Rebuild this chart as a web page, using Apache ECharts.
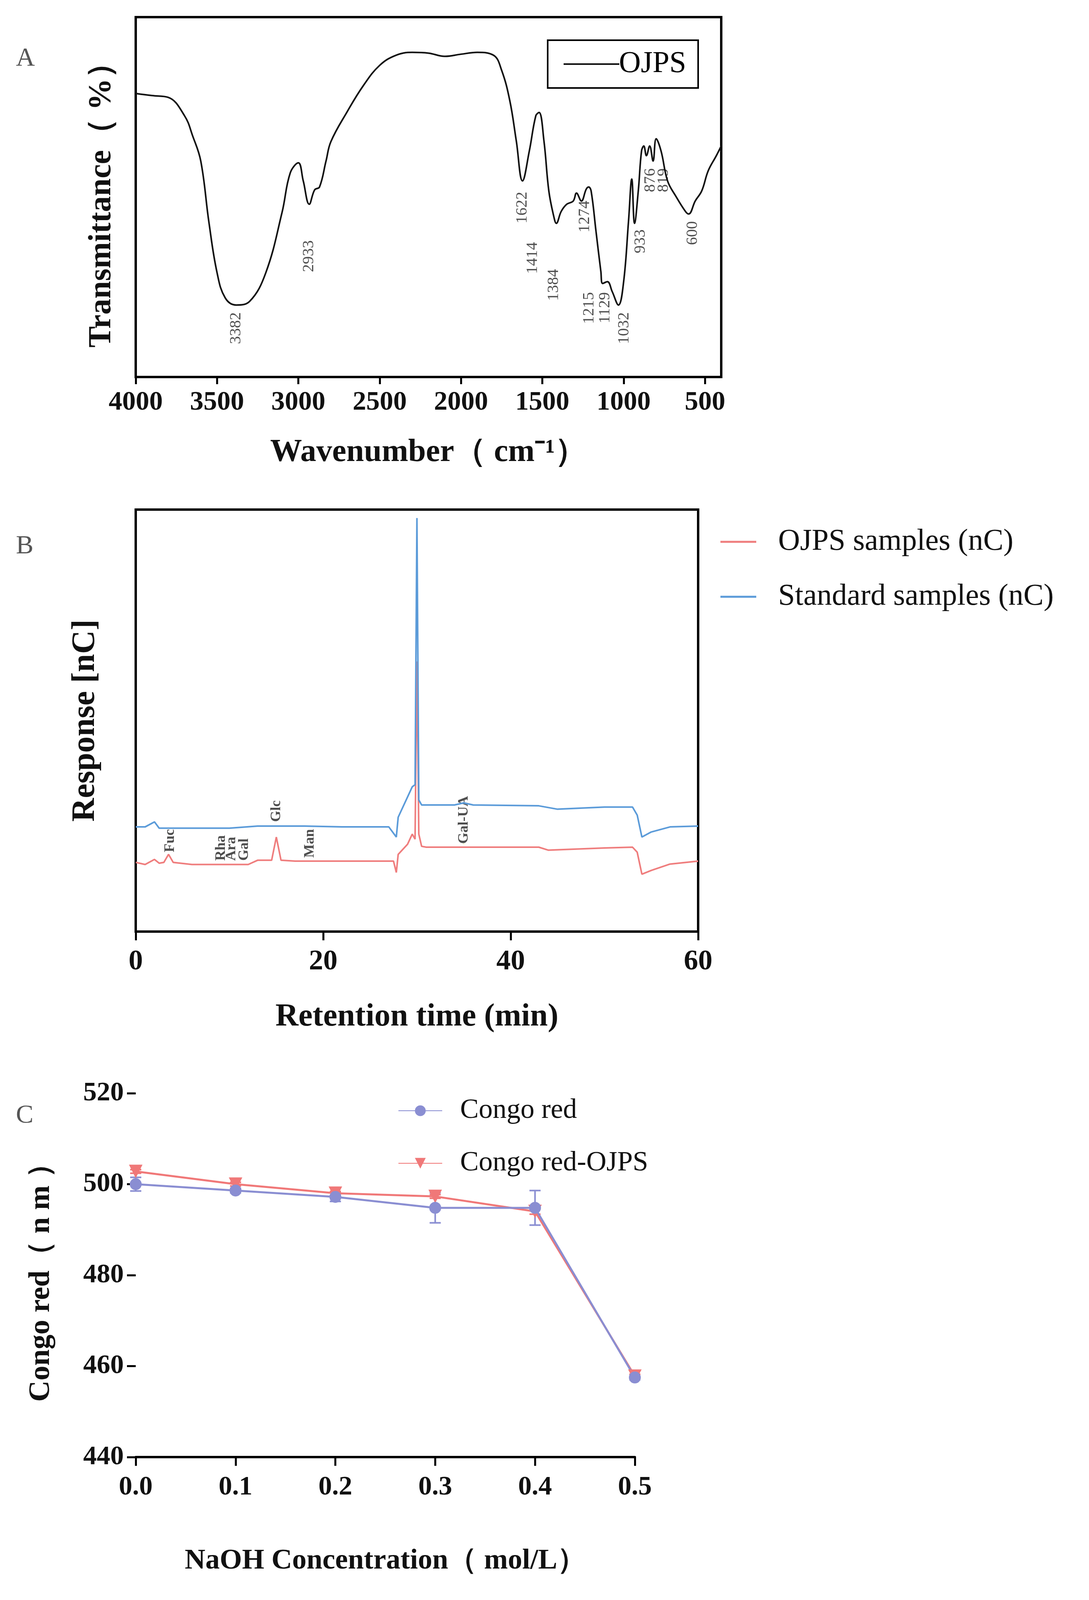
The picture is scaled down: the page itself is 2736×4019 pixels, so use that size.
<!DOCTYPE html>
<html>
<head>
<meta charset="utf-8">
<script src="https://cdn.jsdelivr.net/npm/echarts@6/dist/echarts.min.js"></script>
<style>
  html, body { margin: 0; padding: 0; background: #fff; }
  #main { width: 2736px; height: 4019px; }
</style>
</head>
<body>
<div id="main"></div>
<script>
// ---- panel A: FTIR (wavenumber, transmittance %)
var ftirWave = [4000, 3900, 3800, 3700, 3650, 3600, 3550, 3500, 3450, 3382, 3300, 3200, 3100, 3050, 3000, 2970, 2933, 2900, 2870, 2830, 2800, 2700, 2600, 2500, 2400, 2300, 2200, 2100, 2000, 1900, 1800, 1750, 1700, 1660, 1622, 1580, 1540, 1520, 1490, 1460, 1430, 1414, 1384, 1350, 1310, 1290, 1260, 1230, 1215, 1200, 1170, 1140, 1129, 1100, 1070, 1032, 1000, 970, 950, 933, 910, 890, 876, 860, 840, 819, 800, 770, 730, 680, 620, 600, 560, 520, 480, 430, 400];
var ftirTrans = [78.8, 78.2, 77.7, 72.6, 67, 60, 43, 29, 22, 20, 21, 29, 45.8, 56.7, 59.5, 54.5, 48, 52, 52.8, 60, 65.4, 73.7, 81, 86.6, 89.4, 90.2, 90, 89.1, 89.7, 90.2, 89.4, 85.2, 76.8, 65.6, 54.5, 62.8, 72.6, 73.5, 65.6, 51.7, 44.7, 42.7, 46, 48, 48.9, 51.1, 48.9, 52.2, 52.8, 51.7, 40.5, 29.3, 26, 26.5, 23.7, 20, 26.5, 43.3, 55, 42.7, 51.7, 62.8, 64.2, 61.5, 64.2, 60, 66.2, 62.8, 54.5, 50.3, 46, 45.3, 48.9, 51.7, 57.3, 61.5, 64.2];
var peakWave = [3382, 2933, 1622, 1414, 1384, 1274, 1215, 1129, 1032, 933, 876, 819, 600];
var peakLabelPos = [3382, 2933, 1622, 1560, 1430, 1237, 1212, 1113, 995, 896, 834, 754, 574];
var peakLabelY = [18, 38, 51.5, 37.5, 30, 49, 23.6, 23.6, 18, 41, 58, 58, 43.3];
var tickWave = [4000, 3500, 3000, 2500, 2000, 1500, 1000, 500];

// ---- panel B: ion chromatogram (min, response)
var ojpsTime = [0, 1, 2, 2.5, 3, 3.5, 4, 6, 9, 12, 13, 14.5, 15, 15.5, 17, 22, 27.5, 27.8, 28, 29, 29.5, 29.8, 30, 30.2, 30.5, 31, 40, 43, 44, 50, 53, 53.5, 54, 55, 57, 60];
var ojpsResp = [16.4, 15.9, 17.1, 16.2, 16.4, 18.3, 16.4, 15.9, 15.9, 15.9, 16.9, 16.9, 22.4, 16.9, 16.7, 16.7, 16.7, 14, 18.3, 20.7, 23.1, 21.9, 64, 23.1, 20.2, 20, 20, 20, 19.3, 19.8, 20, 18.8, 13.6, 14.5, 16, 16.7];
var stdTime = [0, 1, 2, 2.5, 5, 10, 13, 15, 18, 22, 27, 27.8, 28, 29, 29.5, 29.8, 30, 30.2, 30.5, 34, 35, 36, 43, 45, 50, 53, 53.5, 54, 55, 57, 60];
var stdResp = [24.8, 24.8, 26, 24.5, 24.5, 24.5, 25, 25, 25, 24.8, 24.8, 22.4, 27.1, 31.9, 34.3, 34.8, 98, 31.2, 30, 30, 30.5, 30, 29.8, 29, 29.5, 29.5, 27.6, 22.4, 23.6, 24.8, 25];
var sugarNames = ['Fuc', 'Rha', 'Ara', 'Gal', 'Glc', 'Man', 'Gal-UA'];
var sugarTime = [3.7, 9.1, 10.2, 11.6, 15.0, 18.6, 35.0];
var sugarY = [18.8, 16.8, 16.8, 16.8, 26.0, 17.5, 20.8];

// ---- panel C: Congo red (NaOH mol/L, nm)
var naoh = ['0.0', '0.1', '0.2', '0.3', '0.4', '0.5'];
var congo = [500, 498.6, 497.2, 494.8, 494.8, 457.5];
var congoErr = [1.5, 0.5, 1.0, 3.3, 3.8, 0.5];
var congoOjps = [502.8, 500, 498, 497.3, 494, 457.8];
var congoOjpsErr = [0.4, 0.4, 0.4, 0.4, 0.6, 0.4];

var serif = 'Liberation Serif';
var blueC = '#8a8ed2';
var redC = '#f07878';

function zip(a, b) { return a.map(function (v, i) { return [v, b[i]]; }); }

function errorSeries(name, vals, errs, color) {
  return {
    name: name + ' err', type: 'custom', xAxisIndex: 2, yAxisIndex: 2, z: 1,
    data: vals.map(function (v, i) { return [i, v - errs[i], v + errs[i]]; }),
    renderItem: function (params, api) {
      var lo = api.coord([api.value(0), api.value(1)]);
      var hi = api.coord([api.value(0), api.value(2)]);
      var w = 14;
      var st = { stroke: color, lineWidth: 4 };
      return { type: 'group', children: [
        { type: 'line', shape: { x1: lo[0], y1: lo[1], x2: hi[0], y2: hi[1] }, style: st },
        { type: 'line', shape: { x1: lo[0] - w, y1: lo[1], x2: lo[0] + w, y2: lo[1] }, style: st },
        { type: 'line', shape: { x1: hi[0] - w, y1: hi[1], x2: hi[0] + w, y2: hi[1] }, style: st }
      ] };
    }
  };
}

var tickLbl = { fontFamily: serif, fontWeight: 'bold', fontSize: 68, color: '#111' };
var axisLine = { lineStyle: { color: '#000', width: 6 } };
var nameStyle = { fontFamily: serif, fontWeight: 'bold', fontSize: 80, color: '#111' };

var option = {
  backgroundColor: '#fff',
  animation: false,
  textStyle: { fontFamily: serif },
  graphic: [
    { type: 'text', left: 40, top: 115, style: { text: 'A', font: '66px "Liberation Serif"', fill: '#555' } },
    { type: 'text', left: 40, top: 1340, style: { text: 'B', font: '66px "Liberation Serif"', fill: '#555' } },
    { type: 'text', left: 40, top: 2770, style: { text: 'C', font: '66px "Liberation Serif"', fill: '#555' } }
  ],
  legend: [
    { data: ['OJPS'], left: 1376, top: 101, orient: 'vertical', borderColor: '#000', borderWidth: 4,
      padding: [22, 30, 22, 40], itemWidth: 140, itemHeight: 4, itemGap: 0, icon: 'rect',
      textStyle: { fontFamily: serif, fontSize: 76, color: '#000', padding: [0, 0, 0, -6] } },
    { data: ['OJPS samples (nC)', 'Standard samples (nC)'], left: 1805, top: 1318, orient: 'vertical',
      itemWidth: 90, itemHeight: 5, itemGap: 62, icon: 'rect',
      textStyle: { fontFamily: serif, fontSize: 76, color: '#111', padding: [0, 0, 0, 50] } },
    { data: ['Congo red', 'Congo red-OJPS'],
      left: 995, top: 2750, orient: 'vertical', itemWidth: 110, itemHeight: 34, itemGap: 62,
      textStyle: { fontFamily: serif, fontSize: 70, color: '#111', padding: [0, 0, 0, 40] } }
  ],
  grid: [
    { left: 341, top: 43, width: 1471, height: 904, show: true, borderColor: '#000', borderWidth: 6, backgroundColor: 'transparent' },
    { left: 341, top: 1280, width: 1413, height: 1060, show: true, borderColor: '#000', borderWidth: 6, backgroundColor: 'transparent' },
    { left: 341, top: 2746, width: 1254, height: 914 }
  ],
  xAxis: [
    { gridIndex: 0, type: 'value', inverse: true, min: 400, max: 4000,
      axisLine: axisLine, splitLine: { show: false },
      axisTick: { length: 18, lineStyle: { width: 5 }, customValues: tickWave },
      axisLabel: Object.assign({ margin: 30, customValues: tickWave, formatter: function (v) { return String(v); } }, tickLbl),
      name: 'Wavenumber（ cm⁻¹）', nameLocation: 'middle', nameGap: 150, nameTextStyle: nameStyle },
    { gridIndex: 1, type: 'value', min: 0, max: 60, interval: 20,
      axisLine: axisLine, axisTick: { length: 22, lineStyle: { width: 5 } }, splitLine: { show: false },
      axisLabel: Object.assign({ margin: 40 }, tickLbl, { fontSize: 72 }),
      name: 'Retention time (min)', nameLocation: 'middle', nameGap: 175, nameTextStyle: nameStyle },
    { gridIndex: 2, type: 'category', data: naoh, boundaryGap: false,
      axisLine: axisLine, axisTick: { length: 22, alignWithLabel: true, lineStyle: { width: 5 } },
      axisLabel: Object.assign({ margin: 42 }, tickLbl),
      name: 'NaOH Concentration（ mol/L）', nameLocation: 'middle', nameGap: 225,
      nameTextStyle: Object.assign({}, nameStyle, { fontSize: 72 }) }
  ],
  yAxis: [
    { gridIndex: 0, type: 'value', min: 0, max: 100, axisLabel: { show: false }, axisTick: { show: false },
      axisLine: axisLine, splitLine: { show: false },
      name: 'Transmittance（ %）', nameLocation: 'middle', nameGap: 45, nameTextStyle: nameStyle },
    { gridIndex: 1, type: 'value', min: 0, max: 100, axisLabel: { show: false }, axisTick: { show: false },
      axisLine: axisLine, splitLine: { show: false },
      name: 'Response [nC]', nameLocation: 'middle', nameGap: 85,
      nameTextStyle: Object.assign({}, nameStyle, { fontSize: 82 }) },
    { gridIndex: 2, type: 'value', min: 440, max: 520, interval: 20,
      axisLine: axisLine, axisTick: { show: true, length: 22, lineStyle: { width: 5 } }, splitLine: { show: false },
      axisLabel: Object.assign({ margin: 30 }, tickLbl),
      name: 'Congo red（ n m ）', nameLocation: 'middle', nameGap: 200,
      nameTextStyle: Object.assign({}, nameStyle, { fontSize: 74 }) }
  ],
  series: [
    { name: 'OJPS', type: 'line', xAxisIndex: 0, yAxisIndex: 0, data: zip(ftirWave, ftirTrans),
      smooth: 0.4, symbol: 'none', lineStyle: { color: '#111', width: 4 }, itemStyle: { color: '#111' } },
    { name: 'peaks', type: 'scatter', xAxisIndex: 0, yAxisIndex: 0, symbolSize: 0,
      data: zip(peakLabelPos, peakLabelY).map(function (d, i) { return { value: d, label: { formatter: String(peakWave[i]) } }; }),
      label: { show: true, rotate: 90, position: 'inside', align: 'right', verticalAlign: 'middle',
        fontFamily: serif, fontSize: 40, color: '#222' } },
    { name: 'OJPS samples (nC)', type: 'line', xAxisIndex: 1, yAxisIndex: 1, data: zip(ojpsTime, ojpsResp),
      symbol: 'none', lineStyle: { color: '#ef7d7d', width: 4 }, itemStyle: { color: '#ef7d7d' } },
    { name: 'Standard samples (nC)', type: 'line', xAxisIndex: 1, yAxisIndex: 1, data: zip(stdTime, stdResp),
      symbol: 'none', lineStyle: { color: '#5b9bd9', width: 4 }, itemStyle: { color: '#5b9bd9' } },
    { name: 'sugars', type: 'scatter', xAxisIndex: 1, yAxisIndex: 1, symbolSize: 0,
      data: zip(sugarTime, sugarY).map(function (d, i) { return { value: d, label: { formatter: sugarNames[i] } }; }),
      label: { show: true, rotate: 90, position: 'inside', align: 'left', verticalAlign: 'middle',
        fontFamily: serif, fontWeight: 'bold', fontSize: 36, color: '#222' } },
    errorSeries('Congo red', congo, congoErr, blueC),
    errorSeries('Congo red-OJPS', congoOjps, congoOjpsErr, redC),
    { name: 'Congo red-OJPS', type: 'line', xAxisIndex: 2, yAxisIndex: 2, data: congoOjps,
      symbol: 'triangle', symbolRotate: 180, symbolSize: 34, lineStyle: { color: redC, width: 5 }, itemStyle: { color: redC } },
    { name: 'Congo red', type: 'line', xAxisIndex: 2, yAxisIndex: 2, data: congo,
      symbol: 'circle', symbolSize: 30, lineStyle: { color: blueC, width: 5 }, itemStyle: { color: blueC } }
  ]
};

var chart = echarts.init(document.getElementById('main'));
chart.setOption(option);
</script>
</body>
</html>
